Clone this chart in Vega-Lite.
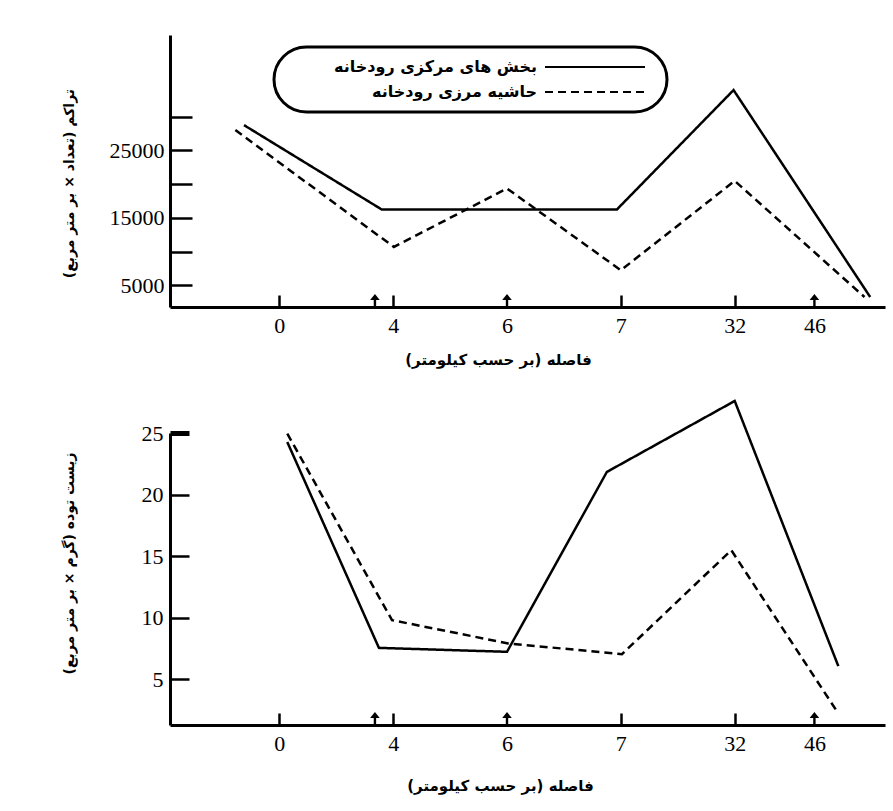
{
  "$schema": "https://vega.github.io/schema/vega-lite/v6.json",
  "background": "white",
  "padding": {"left": 61, "top": 35, "right": 5, "bottom": 5},
  "datasets": {
    "top": [
      {"series": "بخش های مرکزی رودخانه", "site": 0.69, "value": 28760},
      {"series": "بخش های مرکزی رودخانه", "site": 1.9, "value": 16240},
      {"series": "بخش های مرکزی رودخانه", "site": 3.965, "value": 16240},
      {"series": "بخش های مرکزی رودخانه", "site": 4.99, "value": 33960},
      {"series": "بخش های مرکزی رودخانه", "site": 6.19, "value": 3260},
      {"series": "حاشیه مرزی رودخانه", "site": 0.614, "value": 28020},
      {"series": "حاشیه مرزی رودخانه", "site": 2.006, "value": 10690},
      {"series": "حاشیه مرزی رودخانه", "site": 3.0, "value": 19360},
      {"series": "حاشیه مرزی رودخانه", "site": 4.0, "value": 7230},
      {"series": "حاشیه مرزی رودخانه", "site": 5.0, "value": 20490},
      {"series": "حاشیه مرزی رودخانه", "site": 6.14, "value": 3260}
    ],
    "bottom": [
      {"series": "بخش های مرکزی رودخانه", "site": 1.07, "value": 24.27},
      {"series": "بخش های مرکزی رودخانه", "site": 1.875, "value": 7.56},
      {"series": "بخش های مرکزی رودخانه", "site": 3.0, "value": 7.24},
      {"series": "بخش های مرکزی رودخانه", "site": 3.877, "value": 21.84},
      {"series": "بخش های مرکزی رودخانه", "site": 5.0, "value": 27.6},
      {"series": "بخش های مرکزی رودخانه", "site": 5.91, "value": 6.08},
      {"series": "حاشیه مرزی رودخانه", "site": 1.07, "value": 24.95},
      {"series": "حاشیه مرزی رودخانه", "site": 1.99, "value": 9.81},
      {"series": "حاشیه مرزی رودخانه", "site": 3.01, "value": 7.92},
      {"series": "حاشیه مرزی رودخانه", "site": 4.01, "value": 7.05},
      {"series": "حاشیه مرزی رودخانه", "site": 4.97, "value": 15.49},
      {"series": "حاشیه مرزی رودخانه", "site": 5.91, "value": 2.24}
    ],
    "sites": [
      {"site": 1.84},
      {"site": 3.0},
      {"site": 5.7}
    ]
  },
  "spacing": 126,
  "bounds": "flush",
  "vconcat": [
    {
      "width": 715,
      "height": 272,
      "layer": [
        {
          "data": {"name": "top"},
          "mark": {"type": "line", "strokeWidth": 2.5, "color": "black"},
          "encoding": {
            "x": {
              "field": "site", "type": "quantitative",
              "scale": {"domain": [0.04, 6.32], "nice": false, "zero": false},
              "axis": {
                "values": [1, 2, 3, 4, 5, 5.7],
                "labelExpr": "datum.value == 1 ? '0' : datum.value == 2 ? '4' : datum.value == 3 ? '6' : datum.value == 4 ? '7' : datum.value == 5 ? '32' : '46'",
                "title": "فاصله (بر حسب کیلومتر)",
                "tickSize": -12,
                "tickColor": {"condition": {"test": "datum.value == 3 || datum.value > 5.5", "value": "transparent"}, "value": "black"},
                "labelPadding": 20,
                "titlePadding": 16,
                "titleX": 328
              }
            },
            "y": {
              "field": "value", "type": "quantitative",
              "scale": {"domain": [1780, 42130], "nice": false, "zero": false},
              "axis": {
                "values": [5000, 10000, 15000, 20000, 25000, 30000],
                "format": "d",
                "labelExpr": "datum.value % 10000 == 5000 ? datum.label : ''",
                "title": "تراکم (تعداد × بر متر مربع)",
                "tickSize": -22,
                "labelPadding": 28,
                "titleX": -101,
                "titleY": 148
              }
            },
            "strokeDash": {
              "field": "series", "type": "nominal",
              "scale": {"domain": ["بخش های مرکزی رودخانه", "حاشیه مرزی رودخانه"], "range": [[1, 0], [8, 5]]},
              "legend": {
                "orient": "none",
                "legendX": 104,
                "legendY": 12,
                "title": "\u00a0",
                "titleOrient": "left",
                "titleFontSize": 10,
                "titlePadding": 38,
                "strokeColor": "black",
                "cornerRadius": 35,
                "padding": 12,
                "labelFont": "DejaVu Sans",
                "labelFontSize": 16,
                "labelFontWeight": "bold",
                "labelColor": "black",
                "labelAlign": "right",
                "labelOffset": -66,
                "labelLimit": 400,
                "symbolType": "M-10,0H10M11.2,0",
                "symbolSize": 100,
                "symbolOffset": 263,
                "symbolStrokeWidth": 2,
                "symbolStrokeColor": "black",
                "rowPadding": 9,
                "encode": {
                  "legend": {"update": {"strokeWidth": {"value": 3}}},
                  "symbols": {
                    "enter": {"strokeDash": {"signal": "datum.value == 'حاشیه مرزی رودخانه' ? [14, 8] : [1, 0]"}},
                    "update": {"strokeDash": {"signal": "datum.value == 'حاشیه مرزی رودخانه' ? [14, 8] : [1, 0]"}}
                  }
                }
              }
            }
          }
        },
        {
          "data": {"name": "sites"},
          "mark": {"type": "point", "shape": "M0,-1L0.8,0L0.2,0L0.2,1L-0.2,1L-0.2,0L-0.8,0Z", "filled": true, "color": "black", "opacity": 1, "size": 144, "yOffset": -7},
          "encoding": {
            "x": {"field": "site", "type": "quantitative"},
            "y": {"datum": 1780, "type": "quantitative"}
          }
        }
      ]
    },
    {
      "width": 715,
      "height": 292,
      "layer": [
        {
          "data": {"name": "bottom"},
          "mark": {"type": "line", "strokeWidth": 2.5, "color": "black", "clip": false},
          "encoding": {
            "x": {
              "field": "site", "type": "quantitative",
              "scale": {"domain": [0.04, 6.32], "nice": false, "zero": false},
              "axis": {
                "values": [1, 2, 3, 4, 5, 5.7],
                "labelExpr": "datum.value == 1 ? '0' : datum.value == 2 ? '4' : datum.value == 3 ? '6' : datum.value == 4 ? '7' : datum.value == 5 ? '32' : '46'",
                "title": "فاصله (بر حسب کیلومتر)",
                "tickSize": -12,
                "tickColor": {"condition": {"test": "datum.value == 3 || datum.value > 5.5", "value": "transparent"}, "value": "black"},
                "labelPadding": 20,
                "titlePadding": 24,
                "titleX": 330
              }
            },
            "y": {
              "field": "value", "type": "quantitative",
              "scale": {"domain": [1.3, 25], "nice": false, "zero": false},
              "axis": {
                "values": [5, 10, 15, 20, 25],
                "title": "زیست توده (گرم × بر متر مربع)",
                "tickSize": -19,
                "tickWidth": {"condition": {"test": "datum.value == 25", "value": 5}, "value": 2.5},
                "labelPadding": 26,
                "titleX": -101,
                "titleY": 130
              }
            },
            "strokeDash": {
              "field": "series", "type": "nominal",
              "scale": {"domain": ["بخش های مرکزی رودخانه", "حاشیه مرزی رودخانه"], "range": [[1, 0], [8, 5]]},
              "legend": null
            }
          }
        },
        {
          "data": {"name": "sites"},
          "mark": {"type": "point", "shape": "M0,-1L0.8,0L0.2,0L0.2,1L-0.2,1L-0.2,0L-0.8,0Z", "filled": true, "color": "black", "opacity": 1, "size": 144, "yOffset": -7},
          "encoding": {
            "x": {"field": "site", "type": "quantitative"},
            "y": {"datum": 1.3, "type": "quantitative"}
          }
        }
      ]
    }
  ],
  "resolve": {"scale": {"strokeDash": "shared"}},
  "config": {
    "view": {"stroke": null},
    "axis": {
      "grid": false,
      "domainColor": "black",
      "domainWidth": 3,
      "tickColor": "black",
      "tickWidth": 2.5,
      "labelFont": "Liberation Serif",
      "labelFontSize": 22,
      "labelColor": "black",
      "titleFont": "DejaVu Sans",
      "titleFontSize": 15,
      "titleFontWeight": "bold",
      "titleColor": "black"
    },
    "axisY": {"titleBaseline": "middle", "titleFontSize": 14}
  }
}
